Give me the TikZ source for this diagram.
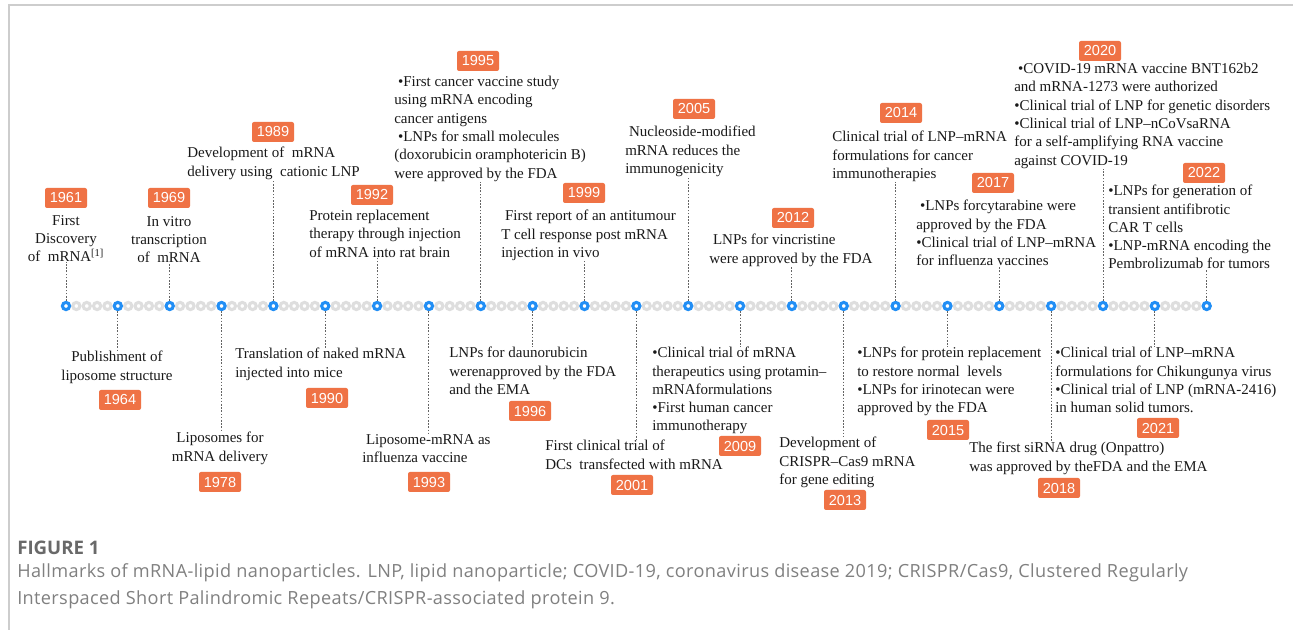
\documentclass[tikz,border=0pt]{standalone}
\usepackage{fontspec}
\setmainfont{Liberation Serif}
\newfontfamily\yearfont{Liberation Sans}
\newfontfamily\capfont{Open Sans}
\newfontfamily\capfontsp[LetterSpace=2.0]{Open Sans}
\definecolor{badgeor}{RGB}{239,114,69}
\definecolor{dotblue}{RGB}{33,142,245}
\definecolor{dotgrey}{RGB}{222,222,222}
\definecolor{connc}{RGB}{100,100,100}
\definecolor{framec}{RGB}{205,205,205}
\definecolor{capg}{RGB}{105,105,105}
\definecolor{capt}{RGB}{128,128,128}
\tikzset{
  evt/.style={font=\fontsize{11.25}{13.7}\selectfont, inner sep=0pt, align=left, text=black!90},
  evtc/.style={evt, align=center},
  yearbadge/.style={fill=badgeor, rounded corners=1.5pt, text=white, inner sep=0pt,
    minimum width=31.5pt, minimum height=15pt, font=\yearfont\fontsize{10.9}{12}\selectfont},
  bluedot/.style={circle, draw=dotblue, line width=2.3pt, fill=white, minimum size=5.4pt, inner sep=0pt},
  greydot/.style={circle, draw=dotgrey, line width=2.3pt, fill=white, minimum size=5.4pt, inner sep=0pt},
  conn/.style={draw=connc, line width=0.75pt, dash pattern=on 1.2pt off 1.2pt}
}
\begin{document}
\begin{tikzpicture}[x=0.75pt,y=-0.75pt]
\useasboundingbox (0,0) rectangle (1293,630);
\fill[white] (0,0) rectangle (1293,630);
\draw[framec, line width=0.9pt] (9,630) -- (9,5) -- (1293,5);

% timeline dots
\foreach \i in {0,...,21}{
  \foreach \k in {1,...,4}{
    \node[greydot] (g\i-\k) at ({66+51.85*\i+10.37*\k},306) {};
  }
}
\foreach \i in {0,...,22}{
  \node[bluedot] (c\i) at ({66+51.85*\i},306) {};
}

% ---------- top events ----------
\node[evtc, anchor=north] (t0) at (66,215) {First\\Discovery\\of~~mRNA\textsuperscript{[1]}};
\node[yearbadge] (y0) at (66,198) {1961};

\node[evtc, anchor=north] (t2) at (169,216) {In vitro\\transcription\\of~~mRNA};
\node[yearbadge] (y2) at (169,198) {1969};

\node[evt, anchor=north west] (t4) at (187,147) {Development of~~mRNA\\delivery using~~cationic LNP};
\node[yearbadge] (y4) at (273,132) {1989};

\node[evt, anchor=north west] (t6) at (309,210) {Protein replacement\\therapy through injection\\of mRNA into rat brain};
\node[yearbadge] (y6) at (372,195) {1992};

\node[evt, anchor=north west] (t8) at (394,76) {~•First cancer vaccine study\\using mRNA encoding\\cancer antigens\\~•LNPs for small molecules\\(doxorubicin oramphotericin B)\\were approved by the FDA};
\node[yearbadge] (y8) at (478,61) {1995};

\node[evt, anchor=north west] (t10) at (501,210) {~First report of an antitumour\\T cell response post mRNA\\injection in vivo};
\node[yearbadge] (y10) at (584,193) {1999};

\node[evt, anchor=north west] (t12) at (625,126) {~Nucleoside-modified\\mRNA reduces the\\immunogenicity};
\node[yearbadge] (y12) at (694,109) {2005};

\node[evt, anchor=north west] (t14) at (709,234) {~LNPs for vincristine\\were approved by the FDA};
\node[yearbadge] (y14) at (793,218) {2012};

\node[evt, anchor=north west] (t16) at (832,131) {Clinical trial of LNP–mRNA\\formulations for cancer\\immunotherapies};
\node[yearbadge] (y16) at (901,113) {2014};

\node[evt, anchor=north west] (t18) at (916,200) {~•LNPs forcytarabine were\\approved by the FDA\\•Clinical trial of LNP–mRNA\\for influenza vaccines};
\node[yearbadge] (y18) at (993,183) {2017};

\node[evt, anchor=north west] (t20) at (1014,63) {~•COVID-19 mRNA vaccine BNT162b2\\and mRNA-1273 were authorized\\•Clinical trial of LNP for genetic disorders\\•Clinical trial of LNP–nCoVsaRNA\\for a self-amplifying RNA vaccine\\against COVID-19};
\node[yearbadge] (y20) at (1100,51) {2020};

\node[evt, anchor=north west] (t22) at (1108,185) {•LNPs for generation of\\transient antifibrotic\\CAR T cells\\•LNP-mRNA encoding the\\Pembrolizumab for tumors};
\node[yearbadge] (y22) at (1204,173) {2022};

% ---------- bottom events ----------
\node[evtc, anchor=north] (t1) at (117,351) {Publishment of\\liposome structure};
\node[yearbadge] (y1) at (120,400) {1964};

\node[evtc, anchor=north] (t3) at (220,432) {Liposomes for\\mRNA delivery};
\node[yearbadge] (y3) at (220,482) {1978};

\node[evt, anchor=north west] (t5) at (235,348) {Translation of naked mRNA\\injected into mice};
\node[yearbadge] (y5) at (327,398) {1990};

\node[evt, anchor=north west] (t7) at (362,434) {~Liposome-mRNA as\\influenza vaccine};
\node[yearbadge] (y7) at (429,482) {1993};

\node[evt, anchor=north west] (t9) at (449,347) {LNPs for daunorubicin\\werenapproved by the FDA\\and the EMA};
\node[yearbadge] (y9) at (530,411) {1996};

\node[evt, anchor=north west] (t11) at (545,440) {First clinical trial of\\DCs~~transfected with mRNA};
\node[yearbadge] (y11) at (632,485) {2001};

\node[evt, anchor=north west] (t13) at (652,347) {•Clinical trial of mRNA\\therapeutics using protamin–\\mRNAformulations\\•First human cancer\\immunotherapy};
\node[yearbadge] (y13) at (740,446) {2009};

\node[evt, anchor=north west] (t15) at (779,437) {Development of\\CRISPR–Cas9 mRNA\\for gene editing};
\node[yearbadge] (y15) at (845,500) {2013};

\node[evt, anchor=north west] (t17) at (857,347) {•LNPs for protein replacement\\to restore normal~~levels\\•LNPs for irinotecan were\\approved by the FDA};
\node[yearbadge] (y17) at (948,430) {2015};

\node[evt, anchor=north west] (t19) at (969,442) {The first siRNA drug (Onpattro)\\was approved by theFDA and the EMA};
\node[yearbadge] (y19) at (1059,488) {2018};

\node[evt, anchor=north west] (t21) at (1055,347) {•Clinical trial of LNP–mRNA\\formulations for Chikungunya virus\\•Clinical trial of LNP (mRNA-2416)\\in human solid tumors.};
\node[yearbadge] (y21) at (1158,428) {2021};

% ---------- connectors ----------
\foreach \i in {0,2,...,22}{
  \draw[conn] (c\i) -- (c\i |- t\i.south);
}
\foreach \i in {1,3,...,21}{
  \draw[conn] (c\i) -- (c\i |- t\i.north);
}

% ---------- caption ----------
\node[anchor=west, inner sep=0pt, text=capg, font=\capfont\bfseries\fontsize{14}{16}\selectfont] (fig) at (17,548) {FIGURE 1};
\node[anchor=north west, inner sep=0pt, align=left, text=capt, font=\capfontsp\fontsize{13.6}{20.25}\selectfont] (cap) at (17,563)
  {Hallmarks of mRNA-lipid nanoparticles. LNP, lipid nanoparticle; COVID-19, coronavirus disease 2019; CRISPR/Cas9, Clustered Regularly\\Interspaced Short Palindromic Repeats/CRISPR-associated protein 9.};
\end{tikzpicture}
\end{document}
